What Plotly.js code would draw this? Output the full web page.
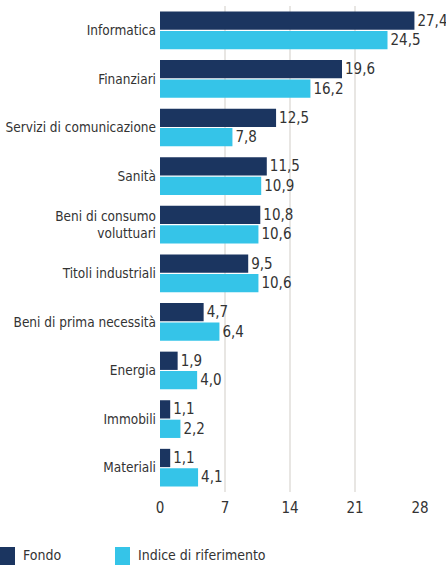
<!DOCTYPE html>
<html><head><meta charset="utf-8">
<script src="https://cdn.plot.ly/plotly-3.0.1.min.js"></script>
<style>body{margin:0;background:#fff}#chart{width:446px;height:565px}</style>
</head><body><div id="chart"></div>
<script>
const categories = ["Informatica","Finanziari","Servizi di comunicazione","Sanità","Beni di consumo<br>voluttuari","Titoli industriali","Beni di prima necessità","Energia","Immobili","Materiali"];
const fondo = [27.4,19.6,12.5,11.5,10.8,9.5,4.7,1.9,1.1,1.1];
const indice = [24.5,16.2,7.8,10.9,10.6,10.6,6.4,4.0,2.2,4.1];
const tickVals = [0,7,14,21,28];
const seriesNames = ["Fondo","Indice di riferimento"];
const seriesColors = ['#1b3560','#35c4e8'];

const FONT = '"DejaVu Sans Condensed","Liberation Sans Narrow",sans-serif';
const W = 446, H = 565, L = 160, R = 26, T = 6, B = 73;
const pw = W - L - R, ph = H - T - B;
const px2x = p => (p - L) / pw;
const py2y = p => (H - B - p) / ph;

const mk = (vals, i) => ({
  type:'bar', orientation:'h', y:categories, x:vals, name:seriesNames[i],
  marker:{color:seriesColors[i]}, texttemplate:'%{x:.1f}', textposition:'outside',
  cliponaxis:false, textfont:{family:FONT,size:15,color:'#333'}, hoverinfo:'none'
});
const data = [mk(fondo,0), mk(indice,1)];

// manual legend
const legX = [0, 115];
const shapes = [], annotations = [];
seriesNames.forEach((n,i) => {
  shapes.push({type:'rect', xref:'paper', yref:'paper', x0:px2x(legX[i]), x1:px2x(legX[i]+15),
    y0:py2y(547), y1:py2y(566), fillcolor:seriesColors[i], line:{width:0}});
  annotations.push({xref:'paper', yref:'paper', x:px2x(legX[i]+21), y:py2y(555), text:n,
    showarrow:false, xanchor:'left', yanchor:'middle', font:{family:FONT,size:14,color:'#333'}});
});

const layout = {
  width:W, height:H, separators:',.',
  margin:{l:L, r:R, t:T, b:B},
  paper_bgcolor:'#fff', plot_bgcolor:'#fff',
  barmode:'group', bargap:0.2, bargroupgap:0.06,
  font:{family:FONT, size:13, color:'#333'},
  xaxis:{range:[0,28], tickvals:tickVals, showgrid:true, gridcolor:'#e8e6e3', gridwidth:2,
         zeroline:false, showline:false, ticks:'', tickfont:{size:15,color:'#333'}, ticklabelstandoff:5,
         automargin:false, fixedrange:true},
  yaxis:{autorange:'reversed', ticks:'', showline:false, tickfont:{size:13.5,color:'#333'}, ticklabelstandoff:3, automargin:false},
  showlegend:false, shapes:shapes, annotations:annotations
};
Plotly.newPlot('chart', data, layout, {displayModeBar:false, staticPlot:true});
</script></body></html>
